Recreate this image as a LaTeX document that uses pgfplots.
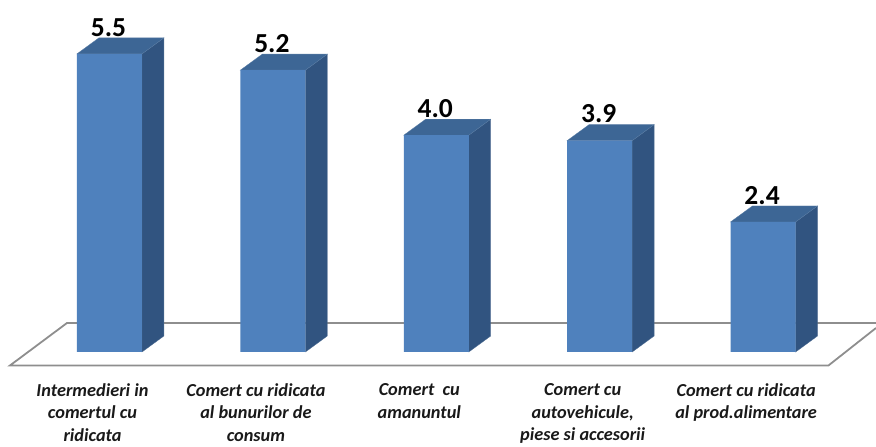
\documentclass[border=0pt]{standalone}
\usepackage{fontspec}
\setmainfont{Carlito}
\usepackage{pgfplots}
\pgfplotsset{compat=1.18}
\definecolor{front}{HTML}{4F81BD}
\definecolor{side}{HTML}{315480}
\definecolor{topf}{HTML}{3D6695}
\definecolor{floorline}{HTML}{8E8E8E}
\pgfplotsset{
  face/.style={fill=#1, draw=#1!85!white, line width=0.3pt, forget plot},
}
\begin{document}
\begin{tikzpicture}
\begin{axis}[
  at={(0pt,0pt)}, anchor=south west,
  scale only axis, width=876pt, height=445pt,
  xmin=-0.670, xmax=4.691,
  ymin=-1.716, ymax=6.494,
  axis line style={draw=none},
  tick style={draw=none},
  ytick=\empty,
  xtick={0,1,2,3,4},
  xticklabels={
    {Intermedieri in\\comertul cu\\ridicata},
    {Comert cu ridicata\\al bunurilor de\\consum},
    {Comert \ cu\\amanuntul},
    {Comert cu\\autovehicule,\\piese si accesorii},
    {Comert cu ridicata\\al prod.alimentare}},
  xticklabel style={
    anchor=north, align=center, xshift=-17pt, yshift=65pt, text=black!90,
    font=\bfseries\itshape\fontsize{18.3}{22.5}\selectfont},
]
% floor
\addplot[draw=floorline, line width=1.8pt, forget plot] coordinates {
  (4.691,0.443) (4.400,-0.249) (-0.609,-0.249) (-0.260,0.535) (4.691,0.535)};

% side faces
\addplot[face=side] coordinates {(0.199,0) (0.333,0.295) (0.333,5.795) (0.199,5.5)} --cycle;
\addplot[face=side] coordinates {(1.199,0) (1.333,0.295) (1.333,5.495) (1.199,5.2)} --cycle;
\addplot[face=side] coordinates {(2.199,0) (2.333,0.295) (2.333,4.295) (2.199,4.0)} --cycle;
\addplot[face=side] coordinates {(3.199,0) (3.333,0.295) (3.333,4.195) (3.199,3.9)} --cycle;
\addplot[face=side] coordinates {(4.199,0) (4.333,0.295) (4.333,2.695) (4.199,2.4)} --cycle;

% top faces
\addplot[face=topf] coordinates {(-0.199,5.5) (-0.065,5.795) (0.333,5.795) (0.199,5.5)} --cycle;
\addplot[face=topf] coordinates {(0.801,5.2) (0.935,5.495) (1.333,5.495) (1.199,5.2)} --cycle;
\addplot[face=topf] coordinates {(1.801,4.0) (1.935,4.295) (2.333,4.295) (2.199,4.0)} --cycle;
\addplot[face=topf] coordinates {(2.801,3.9) (2.935,4.195) (3.333,4.195) (3.199,3.9)} --cycle;
\addplot[face=topf] coordinates {(3.801,2.4) (3.935,2.695) (4.333,2.695) (4.199,2.4)} --cycle;

% front faces
\addplot[ybar, bar width=65pt, fill=front, draw=none,
  nodes near coords={\pgfmathprintnumber[fixed, fixed zerofill, precision=1, assume math mode=true]{\pgfplotspointmeta}},
  every node near coord/.append style={
    font=\bfseries\fontsize{27.5}{27.5}\selectfont, text=black, yshift=14pt, xshift=-1pt}]
  coordinates {(0,5.5) (1,5.2) (2,4.0) (3,3.9) (4,2.4)};
\end{axis}
\end{tikzpicture}
\end{document}
